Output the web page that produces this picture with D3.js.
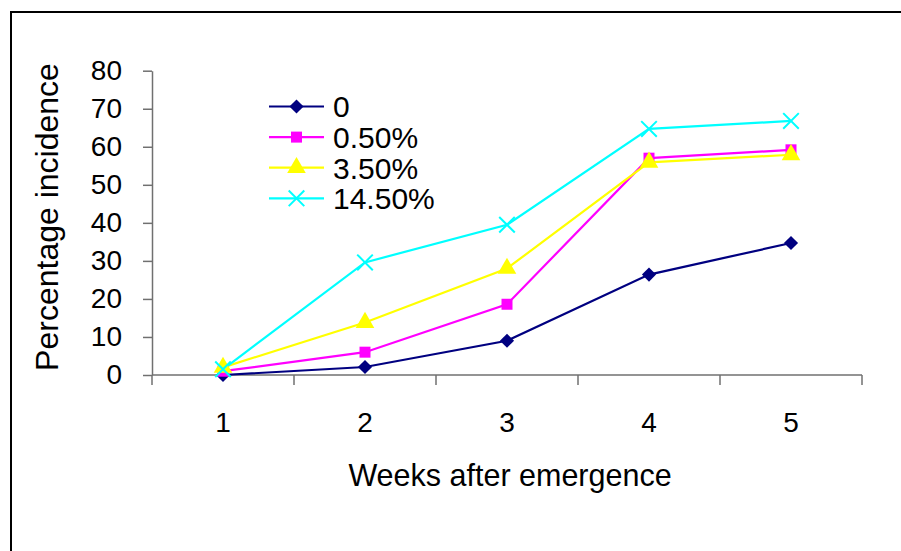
<!DOCTYPE html>
<html>
<head>
<meta charset="utf-8">
<script src="https://cdn.jsdelivr.net/npm/d3@7/dist/d3.min.js"></script>
<style>
  html, body { margin: 0; padding: 0; background: #fff; }
  svg { display: block; font-family: "Liberation Sans", Arial, sans-serif; }
</style>
</head>
<body>
<svg id="chart" width="901" height="551"></svg>
<script>
// Weeks after emergence (x categories)
const weeks = [1, 2, 3, 4, 5];

// Percentage incidence per treatment level
const seriesNames = ["0", "0.50%", "3.50%", "14.50%"];
const valuesCtrl = [0, 2.1, 9.0, 26.4, 34.7];
const values050 = [1.0, 6.0, 18.6, 57.0, 59.2];
const values350 = [2.0, 13.8, 28.0, 55.9, 57.9];
const values1450 = [1.5, 29.6, 39.5, 64.7, 66.8];

const yTicks = [0, 10, 20, 30, 40, 50, 60, 70, 80];

// square diamond (equal width and height)
const symbolRhombus = {
  draw(context, size) {
    const r = Math.sqrt(size / 2);
    context.moveTo(0, -r);
    context.lineTo(r, 0);
    context.lineTo(0, r);
    context.lineTo(-r, 0);
    context.closePath();
  }
};

const colors = ["#000080", "#FF00FF", "#FFFF00", "#00FFFF"];
const symbols = [symbolRhombus, d3.symbolSquare, d3.symbolTriangle, d3.symbolX];
const markerSize = [100, 121, 150, 160];

const series = seriesNames.map((name, i) => ({
  name,
  color: colors[i],
  symbol: symbols[i],
  size: markerSize[i],
  values: [valuesCtrl, values050, values350, values1450][i]
}));

const svg = d3.select("#chart");

// outer frame
svg.append("rect")
  .attr("x", 11).attr("y", 12)
  .attr("width", 1000).attr("height", 1000)
  .attr("fill", "none")
  .attr("stroke", "#000")
  .attr("stroke-width", 2);

const plotLeft = 152, plotRight = 862, plotTop = 70.7, plotBottom = 375;

const x = d3.scaleBand().domain(weeks).range([plotLeft, plotRight]);
const xc = d => x(d) + x.bandwidth() / 2;
const y = d3.scaleLinear().domain([0, 80]).range([plotBottom, plotTop]);

const axisColor = "#707070";

// y axis
const yAxis = svg.append("g")
  .attr("transform", `translate(${plotLeft},0)`)
  .call(d3.axisLeft(y).tickValues(yTicks).tickSize(9).tickPadding(21).tickSizeOuter(0));
yAxis.select(".domain").attr("stroke", axisColor).attr("stroke-width", 1.5);
yAxis.selectAll(".tick line").attr("stroke", axisColor).attr("stroke-width", 1.5);
yAxis.selectAll(".tick text")
  .attr("fill", "#000")
  .style("font-size", "28px")
  .style("font-family", "'Liberation Sans', Arial, sans-serif");

// x axis: baseline, ticks at category boundaries, labels at centres
const xAxis = svg.append("g");
xAxis.append("line")
  .attr("x1", plotLeft).attr("x2", plotRight)
  .attr("y1", plotBottom).attr("y2", plotBottom)
  .attr("stroke", axisColor).attr("stroke-width", 1.5);
const boundaries = weeks.map(d => x(d)).concat([x(weeks[weeks.length - 1]) + x.bandwidth()]);
xAxis.selectAll("line.tick")
  .data(boundaries)
  .join("line")
  .attr("class", "tick")
  .attr("x1", d => d).attr("x2", d => d)
  .attr("y1", plotBottom).attr("y2", plotBottom + 10)
  .attr("stroke", axisColor).attr("stroke-width", 1.5);
xAxis.selectAll("text")
  .data(weeks)
  .join("text")
  .attr("x", d => xc(d))
  .attr("y", 432)
  .attr("text-anchor", "middle")
  .style("font-size", "28px")
  .text(d => d);

// axis titles
svg.append("text")
  .attr("x", 510).attr("y", 486)
  .attr("text-anchor", "middle")
  .style("font-size", "30.5px")
  .text("Weeks after emergence");

svg.append("text")
  .attr("transform", "translate(58,217) rotate(-90)")
  .attr("text-anchor", "middle")
  .style("font-size", "32px")
  .text("Percentage incidence");

// lines
const line = d3.line().x((d, i) => xc(weeks[i])).y(d => y(d));

series.forEach(s => {
  svg.append("path")
    .datum(s.values)
    .attr("d", line)
    .attr("fill", "none")
    .attr("stroke", s.color)
    .attr("stroke-width", 2.2);
});

const isCross = s => s.symbol === d3.symbolX;

series.forEach(s => {
  const sym = d3.symbol().type(s.symbol).size(s.size);
  svg.append("g").selectAll("path")
    .data(s.values)
    .join("path")
    .attr("transform", (d, j) => `translate(${xc(weeks[j])},${y(d)})`)
    .attr("d", sym)
    .attr("fill", isCross(s) ? "none" : s.color)
    .attr("stroke", s.color)
    .attr("stroke-width", isCross(s) ? 2 : 0);
});

// legend
const legend = svg.append("g");
series.forEach((s, i) => {
  const ry = 106.5 + i * 30.6;
  const g = legend.append("g");
  g.append("line")
    .attr("x1", 269).attr("x2", 324)
    .attr("y1", ry).attr("y2", ry)
    .attr("stroke", s.color).attr("stroke-width", 2.2);
  g.append("path")
    .attr("transform", `translate(296.5,${ry})`)
    .attr("d", d3.symbol().type(s.symbol).size(s.size)())
    .attr("fill", isCross(s) ? "none" : s.color)
    .attr("stroke", s.color)
    .attr("stroke-width", isCross(s) ? 2 : 0);
  g.append("text")
    .attr("x", 333).attr("y", ry)
    .attr("dy", "0.36em")
    .style("font-size", "30px")
    .text(s.name);
});
</script>
</body>
</html>
